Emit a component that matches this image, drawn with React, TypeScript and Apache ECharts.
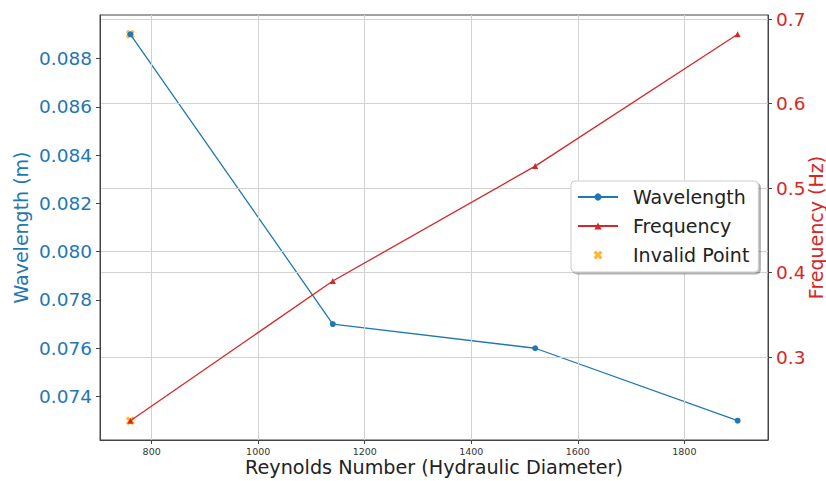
import React, { useEffect, useRef } from "react";
import * as echarts from "echarts";

// ---- data ----
const REYNOLDS = [760, 1140, 1520, 1900];
const WAVELENGTH = [0.089, 0.077, 0.076, 0.073];
const FREQUENCY = [0.2247, 0.390, 0.526, 0.682];
const INVALID_X = [760];
const INVALID_WAVELENGTH = [0.089];
const INVALID_FREQUENCY = [0.2247];

const X_TICKS = [800, 1000, 1200, 1400, 1600, 1800];
const WL_TICKS = [0.074, 0.076, 0.078, 0.08, 0.082, 0.084, 0.086, 0.088];
const FREQ_TICKS = [0.3, 0.4, 0.5, 0.6, 0.7];

const BLUE = "#1f77b4";
const RED = "#d62728";
const ORANGE = "#ffa500";
const FONT = "DejaVu Sans";
const GRID_COLOR = "#d2d2d2";
const AXIS_COLOR = "#444444";

const X_SYMBOL =
  "path://M7.5 0L10 2.5L7.5 5L10 7.5L7.5 10L5 7.5L2.5 10L0 7.5L2.5 5L0 2.5L2.5 0L5 2.5Z";
const X_LEGEND_ICON =
  "path://M0 0M40 9M22.25 0L24.5 2.25L22.25 4.5L24.5 6.75L22.25 9L20 6.75L17.75 9L15.5 6.75L17.75 4.5L15.5 2.25L17.75 0L20 2.25Z";

function padRange(values: number[]): [number, number] {
  const mn = Math.min(...values);
  const mx = Math.max(...values);
  const r = mx - mn;
  return [mn - 0.05 * r, mx + 0.05 * r];
}

export default function App() {
  const ref = useRef<HTMLDivElement | null>(null);

  useEffect(() => {
    if (!ref.current) return;
    const chart = echarts.init(ref.current, undefined, { renderer: "svg" });
    const [xMin, xMax] = padRange(REYNOLDS);
    const [wMin, wMax] = padRange(WAVELENGTH);
    const [fMin, fMax] = padRange(FREQUENCY);

    const gridLine = { color: GRID_COLOR, width: 1, type: "solid" as const };

    const option: any = {
      animation: false,
      backgroundColor: "#ffffff",
      textStyle: { fontFamily: FONT },
      grid: {
        left: 100,
        right: 58,
        top: 15,
        bottom: 41,
        show: true,
        z: 5,
        borderColor: AXIS_COLOR,
        borderWidth: 1,
        backgroundColor: "transparent",
        containLabel: false,
        outerBoundsMode: "none",
      },
      legend: {
        data: [
          { name: "Wavelength" },
          { name: "Frequency" },
          { name: "Invalid Point", icon: X_LEGEND_ICON },
        ],
        orient: "vertical",
        left: 571,
        top: 181,
        itemWidth: 40,
        itemHeight: 9,
        itemGap: 7,
        padding: [5, 9, 6, 6],
        backgroundColor: "#ffffff",
        borderColor: "#cccccc",
        borderWidth: 1,
        borderRadius: 4,
        shadowColor: "rgba(0,0,0,0.3)",
        shadowOffsetX: 2,
        shadowOffsetY: 2,
        shadowBlur: 1,
        selectedMode: false,
        z: 20,
        textStyle: {
          fontFamily: FONT,
          fontSize: 19,
          color: "#222222",
          lineHeight: 22,
          padding: [0, 0, 0, 10],
        },
      },
      xAxis: {
        type: "value",
        min: xMin,
        max: xMax,
        z: 5,
        name: "Reynolds Number (Hydraulic Diameter)",
        nameLocation: "middle",
        nameGap: 18,
        nameMoveOverlap: false,
        nameTextStyle: { fontFamily: FONT, fontSize: 19.2, color: "#222222" },
        axisLine: { show: true, lineStyle: { color: AXIS_COLOR, width: 1 } },
        axisTick: { show: true, length: 4, customValues: X_TICKS, lineStyle: { color: AXIS_COLOR } },
        axisLabel: {
          customValues: X_TICKS,
          formatter: (v: number) => String(v),
          fontFamily: FONT,
          fontSize: 9.5,
          color: "#333333",
          margin: 6,
        },
        splitLine: { show: false },
      },
      yAxis: [
        {
          type: "value",
          position: "left",
          min: wMin,
          max: wMax,
          z: 5,
          name: "Wavelength (m)",
          nameLocation: "middle",
          nameRotate: 90,
          nameGap: 70,
          nameMoveOverlap: false,
          nameTextStyle: { fontFamily: FONT, fontSize: 19, color: BLUE },
          axisLine: { show: true, lineStyle: { color: AXIS_COLOR, width: 1 } },
          axisTick: { show: true, length: 4, customValues: WL_TICKS, lineStyle: { color: AXIS_COLOR } },
          axisLabel: {
            customValues: WL_TICKS,
            formatter: (v: number) => v.toFixed(3),
            fontFamily: FONT,
            fontSize: 18.5,
            color: BLUE,
            margin: 8,
          },
          splitLine: { show: false },
        },
        {
          type: "value",
          position: "right",
          min: fMin,
          max: fMax,
          z: 5,
          name: "Frequency (Hz)",
          nameLocation: "middle",
          nameRotate: 90,
          nameGap: 38,
          nameMoveOverlap: false,
          nameTextStyle: { fontFamily: FONT, fontSize: 19, color: RED },
          axisLine: { show: true, lineStyle: { color: AXIS_COLOR, width: 1 } },
          axisTick: { show: true, length: 4, customValues: FREQ_TICKS, lineStyle: { color: AXIS_COLOR } },
          axisLabel: {
            customValues: FREQ_TICKS,
            formatter: (v: number) => v.toFixed(1),
            fontFamily: FONT,
            fontSize: 18.5,
            color: RED,
            margin: 8,
          },
          splitLine: { show: false },
        },
      ],
      series: [
        {
          name: "gridX",
          type: "line",
          xAxisIndex: 0,
          yAxisIndex: 0,
          data: [],
          silent: true,
          z: 1,
          markLine: {
            silent: true,
            symbol: ["none", "none"],
            label: { show: false },
            lineStyle: gridLine,
            emphasis: { disabled: true },
            data: [
              ...X_TICKS.map((v) => ({ xAxis: v })),
              ...WL_TICKS.map((v) => ({ yAxis: v })),
            ],
          },
        },
        {
          name: "gridY2",
          type: "line",
          xAxisIndex: 0,
          yAxisIndex: 1,
          data: [],
          silent: true,
          z: 1,
          markLine: {
            silent: true,
            symbol: ["none", "none"],
            label: { show: false },
            lineStyle: gridLine,
            emphasis: { disabled: true },
            data: FREQ_TICKS.map((v) => ({ yAxis: v })),
          },
        },
        {
          name: "Invalid Point",
          type: "scatter",
          xAxisIndex: 0,
          yAxisIndex: 0,
          symbol: X_SYMBOL,
          symbolSize: 9,
          itemStyle: { color: ORANGE },
          data: INVALID_X.map((x, i) => [x, INVALID_WAVELENGTH[i]]),
          z: 3,
        },
        {
          name: "Wavelength",
          type: "line",
          xAxisIndex: 0,
          yAxisIndex: 0,
          symbol: "circle",
          symbolSize: 6,
          lineStyle: { color: BLUE, width: 1.3 },
          itemStyle: { color: BLUE },
          data: REYNOLDS.map((x, i) => [x, WAVELENGTH[i]]),
          z: 4,
        },
        {
          name: "Invalid Point",
          type: "scatter",
          xAxisIndex: 0,
          yAxisIndex: 1,
          symbol: X_SYMBOL,
          symbolSize: 9,
          itemStyle: { color: ORANGE },
          data: INVALID_X.map((x, i) => [x, INVALID_FREQUENCY[i]]),
          z: 5,
        },
        {
          name: "Frequency",
          type: "line",
          xAxisIndex: 0,
          yAxisIndex: 1,
          symbol: "triangle",
          symbolSize: 6,
          lineStyle: { color: RED, width: 1.3 },
          itemStyle: { color: RED },
          data: REYNOLDS.map((x, i) => [x, FREQUENCY[i]]),
          z: 6,
        },
      ],
    };

    chart.setOption(option);
    return () => {
      chart.dispose();
    };
  }, []);

  return (
    <div
      ref={ref}
      style={{ position: "fixed", left: 0, top: 0, width: 826, height: 481, background: "#fff" }}
    />
  );
}
